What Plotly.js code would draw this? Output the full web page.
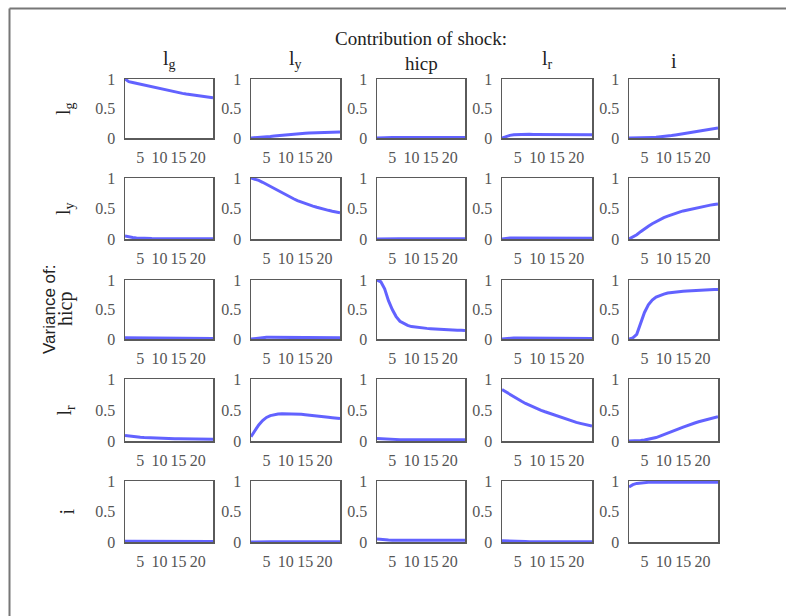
<!DOCTYPE html>
<html>
<head>
<meta charset="utf-8">
<script src="https://cdn.plot.ly/plotly-3.0.1.min.js"></script>
<style>html,body{margin:0;padding:0;background:#fff;}#chart{width:786px;height:616px;}</style>
</head>
<body>
<div id="chart"></div>
<script>
// Horizon (periods)
const horizon = [1,2,3,4,5,6,7,8,9,10,11,12,13,14,15,16,17,18,19,20,21,22,23,24];

// Shock names (columns) and variable names (rows)
const shockLabels = ['l<sub>g</sub>', 'l<sub>y</sub>', 'hicp', 'l<sub>r</sub>', 'i'];
const superTitle = 'Contribution of shock:';
const varLabels = ['l<sub>g</sub>', 'l<sub>y</sub>', 'hicp', 'l<sub>r</sub>', 'i'];
const sideTitle = 'Variance of:';
const xTicks = [5, 10, 15, 20];
const yTicks = [0, 0.5, 1];
const yTickText = ['0', '0.5', '1'];

// Variance of l_g, by shock
const lg_lg   = [1.00,0.955,0.94,0.925,0.91,0.895,0.88,0.865,0.85,0.835,0.82,0.806,0.793,0.78,0.768,0.756,0.745,0.734,0.724,0.714,0.705,0.696,0.688,0.68];
const lg_ly   = [0.00,0.003,0.008,0.014,0.02,0.027,0.034,0.041,0.048,0.054,0.06,0.065,0.07,0.075,0.079,0.083,0.086,0.089,0.092,0.094,0.096,0.098,0.099,0.10];
const lg_hicp = [0.00,0.005,0.008,0.01,0.01,0.01,0.01,0.01,0.01,0.01,0.01,0.01,0.01,0.01,0.01,0.01,0.01,0.01,0.01,0.01,0.01,0.01,0.01,0.01];
const lg_lr   = [0.00,0.025,0.045,0.055,0.06,0.062,0.062,0.062,0.061,0.06,0.06,0.059,0.058,0.058,0.057,0.057,0.056,0.056,0.055,0.055,0.055,0.054,0.054,0.054];
const lg_i    = [0.00,0.00,0.002,0.004,0.006,0.008,0.01,0.013,0.018,0.025,0.033,0.042,0.052,0.062,0.072,0.083,0.093,0.104,0.115,0.126,0.137,0.148,0.158,0.168];

// Variance of l_y, by shock
const ly_lg   = [0.05,0.035,0.025,0.018,0.013,0.01,0.008,0.007,0.006,0.005,0.005,0.005,0.005,0.005,0.005,0.005,0.005,0.005,0.005,0.005,0.005,0.005,0.005,0.005];
const ly_ly   = [1.00,0.985,0.96,0.93,0.895,0.86,0.825,0.79,0.755,0.72,0.69,0.66,0.63,0.605,0.58,0.56,0.54,0.52,0.50,0.485,0.47,0.455,0.44,0.43];
const ly_hicp = [0.00,0.003,0.005,0.006,0.006,0.006,0.006,0.006,0.006,0.006,0.006,0.006,0.006,0.006,0.006,0.006,0.006,0.006,0.006,0.006,0.006,0.006,0.006,0.006];
const ly_lr   = [0.00,0.01,0.015,0.016,0.016,0.016,0.015,0.015,0.015,0.014,0.014,0.014,0.013,0.013,0.013,0.013,0.012,0.012,0.012,0.012,0.012,0.012,0.012,0.012];
const ly_i    = [0.00,0.03,0.07,0.12,0.17,0.21,0.25,0.285,0.32,0.35,0.375,0.40,0.42,0.44,0.46,0.475,0.49,0.505,0.52,0.53,0.545,0.555,0.565,0.575];

// Variance of hicp, by shock
const hicp_lg   = [0.02,0.02,0.018,0.016,0.015,0.014,0.013,0.012,0.011,0.01,0.01,0.01,0.01,0.01,0.01,0.01,0.01,0.01,0.01,0.01,0.01,0.01,0.01,0.01];
const hicp_ly   = [0.00,0.01,0.02,0.025,0.028,0.028,0.027,0.026,0.025,0.024,0.023,0.022,0.022,0.021,0.021,0.02,0.02,0.02,0.02,0.02,0.02,0.02,0.02,0.02];
const hicp_hicp = [1.00,0.97,0.85,0.65,0.50,0.38,0.30,0.26,0.23,0.21,0.20,0.19,0.185,0.18,0.175,0.17,0.165,0.16,0.158,0.155,0.152,0.15,0.148,0.145];
const hicp_lr   = [0.00,0.01,0.015,0.018,0.018,0.017,0.016,0.015,0.014,0.013,0.012,0.012,0.011,0.011,0.01,0.01,0.01,0.01,0.01,0.01,0.01,0.01,0.01,0.01];
const hicp_i    = [0.00,0.02,0.08,0.25,0.45,0.58,0.66,0.71,0.74,0.76,0.78,0.79,0.80,0.805,0.81,0.815,0.82,0.825,0.83,0.83,0.835,0.835,0.84,0.84];

// Variance of l_r, by shock
const lr_lg   = [0.09,0.08,0.072,0.066,0.061,0.057,0.053,0.05,0.047,0.045,0.043,0.041,0.039,0.037,0.036,0.035,0.034,0.033,0.032,0.031,0.03,0.03,0.029,0.028];
const lr_ly   = [0.07,0.17,0.26,0.33,0.38,0.41,0.425,0.435,0.44,0.44,0.44,0.438,0.435,0.43,0.425,0.42,0.413,0.406,0.398,0.39,0.383,0.376,0.369,0.362];
const lr_hicp = [0.04,0.035,0.03,0.027,0.025,0.023,0.022,0.021,0.02,0.02,0.02,0.02,0.02,0.02,0.02,0.02,0.02,0.02,0.02,0.02,0.02,0.02,0.02,0.02];
const lr_lr   = [0.83,0.79,0.75,0.71,0.675,0.64,0.605,0.575,0.545,0.52,0.495,0.472,0.45,0.425,0.40,0.378,0.356,0.336,0.317,0.30,0.284,0.268,0.254,0.24];
const lr_i    = [0.00,0.00,0.003,0.008,0.015,0.025,0.037,0.055,0.078,0.10,0.125,0.15,0.175,0.20,0.225,0.25,0.27,0.29,0.31,0.328,0.345,0.36,0.375,0.39];

// Variance of i, by shock
const i_lg   = [0.012,0.012,0.011,0.011,0.01,0.01,0.01,0.01,0.01,0.01,0.01,0.01,0.01,0.01,0.01,0.01,0.01,0.01,0.01,0.01,0.01,0.01,0.01,0.01];
const i_ly   = [0.00,0.003,0.004,0.005,0.005,0.005,0.005,0.005,0.005,0.005,0.005,0.005,0.005,0.005,0.005,0.005,0.005,0.005,0.005,0.005,0.005,0.005,0.005,0.005];
const i_hicp = [0.05,0.04,0.035,0.032,0.03,0.03,0.03,0.03,0.03,0.03,0.03,0.03,0.03,0.03,0.03,0.03,0.03,0.03,0.03,0.03,0.03,0.03,0.03,0.03];
const i_lr   = [0.02,0.02,0.018,0.015,0.012,0.01,0.008,0.006,0.005,0.004,0.004,0.003,0.003,0.003,0.003,0.003,0.003,0.003,0.003,0.003,0.003,0.003,0.003,0.003];
const i_i    = [0.90,0.94,0.96,0.97,0.975,0.978,0.98,0.98,0.98,0.98,0.98,0.98,0.98,0.98,0.98,0.98,0.98,0.98,0.98,0.98,0.98,0.98,0.98,0.98];

const grid = [
  [lg_lg, lg_ly, lg_hicp, lg_lr, lg_i],
  [ly_lg, ly_ly, ly_hicp, ly_lr, ly_i],
  [hicp_lg, hicp_ly, hicp_hicp, hicp_lr, hicp_i],
  [lr_lg, lr_ly, lr_hicp, lr_lr, lr_i],
  [i_lg, i_ly, i_hicp, i_lr, i_i]
];

const W = 786, H = 616;
const px = x => x / W;
const py = y => 1 - y / H;
const colPx = [[125,213],[251,340],[377,465],[502,592],[629,718]];
const rowPx = [[79,138],[178,239],[280,339],[379,441],[481,542]];

const serif = '"Liberation Serif"';
const sans = '"Liberation Sans"';
const tickFont = {family: serif, size: 16, color: '#555'};
const axisCommon = {
  showline: true, mirror: true, linecolor: '#5a5a5a', linewidth: 1.5,
  ticks: '', showgrid: false, zeroline: false, layer: 'below traces',
  tickfont: tickFont, fixedrange: true
};

const data = [];
const layout = {
  width: W, height: H,
  margin: {l: 0, r: 0, t: 0, b: 0},
  paper_bgcolor: '#fff', plot_bgcolor: '#fff',
  showlegend: false,
  font: {family: serif},
  annotations: [],
  shapes: [
    {type: 'line', xref: 'paper', yref: 'paper', x0: px(9.5), y0: py(8.5), x1: 1, y1: py(8.5), line: {color: '#777', width: 2}},
    {type: 'line', xref: 'paper', yref: 'paper', x0: px(9.5), y0: py(8.5), x1: px(9.5), y1: 0, line: {color: '#777', width: 2}}
  ]
};

for (let r = 0; r < 5; r++) {
  for (let c = 0; c < 5; c++) {
    const idx = r * 5 + c + 1;
    const sfx = idx === 1 ? '' : String(idx);
    data.push({
      type: 'scatter', mode: 'lines',
      x: horizon, y: grid[r][c],
      xaxis: 'x' + sfx, yaxis: 'y' + sfx,
      line: {color: 'rgba(70,70,255,0.85)', width: 3},
      hoverinfo: 'skip'
    });
    layout['xaxis' + sfx] = Object.assign({}, axisCommon, {
      domain: [px(colPx[c][0]), px(colPx[c][1])],
      range: [1, 24], tickvals: xTicks, ticklabelstandoff: 4,
      anchor: 'y' + sfx
    });
    layout['yaxis' + sfx] = Object.assign({}, axisCommon, {
      domain: [py(rowPx[r][1]), py(rowPx[r][0])],
      range: [0, 1], tickvals: yTicks, ticktext: yTickText, ticklabelstandoff: 5,
      anchor: 'x' + sfx
    });
  }
}

// Column titles (shocks)
for (let c = 0; c < 5; c++) {
  const isMid = c === 2;
  layout.annotations.push({
    xref: 'paper', yref: 'paper',
    x: px((colPx[c][0] + colPx[c][1]) / 2), y: isMid ? py(51) : py(74),
    xanchor: 'center', yanchor: isMid ? 'top' : 'bottom',
    text: shockLabels[c], showarrow: false,
    font: {family: serif, size: isMid ? 19 : 20, color: '#222'}
  });
}
layout.annotations.push({
  xref: 'paper', yref: 'paper',
  x: px((colPx[2][0] + colPx[2][1]) / 2), y: py(51),
  xanchor: 'center', yanchor: 'bottom',
  text: superTitle, showarrow: false,
  font: {family: serif, size: 19, color: '#222'}
});

// Row titles (variables)
for (let r = 0; r < 5; r++) {
  layout.annotations.push({
    xref: 'paper', yref: 'paper',
    x: px(79), y: py((rowPx[r][0] + rowPx[r][1]) / 2),
    xanchor: 'right', yanchor: 'middle',
    text: varLabels[r], showarrow: false, textangle: -90,
    font: {family: serif, size: 20, color: '#222'}
  });
}
layout.annotations.push({
  xref: 'paper', yref: 'paper',
  x: px(61), y: py((rowPx[2][0] + rowPx[2][1]) / 2),
  xanchor: 'right', yanchor: 'middle',
  text: sideTitle, showarrow: false, textangle: -90,
  font: {family: sans, size: 17, color: '#222'}
});

Plotly.newPlot('chart', data, layout, {staticPlot: true, displayModeBar: false});
</script>
</body>
</html>
